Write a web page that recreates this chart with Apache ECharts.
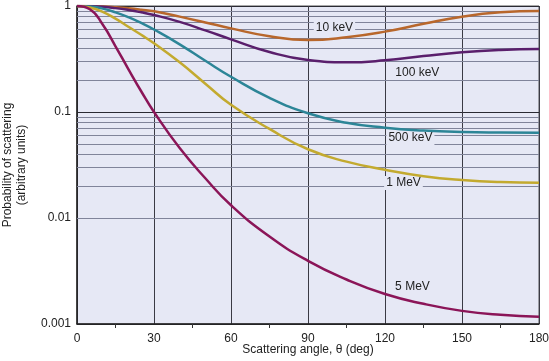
<!DOCTYPE html>
<html><head><meta charset="utf-8">
<script src="https://cdn.jsdelivr.net/npm/echarts@6/dist/echarts.min.js"></script>
<style>html,body{margin:0;padding:0;background:#fff}#c{width:549px;height:361px}</style>
</head><body><div id="c"></div>
<script>
const angles = [0,5,10,15,20,25,30,40,50,60,75,90,105,120,135,150,165,180];
const kev10  = [1,0.998,0.989,0.973,0.951,0.923,0.891,0.794,0.70,0.615,0.518,0.478,0.507,0.573,0.679,0.793,0.871,0.897];
const kev100 = [1,0.995,0.982,0.955,0.918,0.873,0.822,0.708,0.589,0.485,0.368,0.309,0.294,0.307,0.337,0.366,0.385,0.393];
const kev500 = [1,0.989,0.944,0.871,0.785,0.692,0.60,0.435,0.304,0.215,0.136,0.0973,0.0791,0.0711,0.0668,0.0647,0.064,0.0638];
const mev1   = [1,0.966,0.881,0.759,0.638,0.535,0.445,0.294,0.185,0.117,0.0692,0.0445,0.034,0.0285,0.0248,0.0228,0.0218,0.0215];
const mev5   = [1,0.933,0.668,0.417,0.254,0.157,0.1,0.0457,0.0237,0.0132,0.00668,0.00394,0.00263,0.00192,0.00155,0.00133,0.00122,0.00117];
const seriesNames = ['10 keV','100 keV','500 keV','1 MeV','5 MeV'];
const seriesColors = ['#b8672c','#5a1f6c','#2c8597','#c3aa2f','#8b1558'];
const labelPos = [[100.3,0.627],[132.6,0.236],[129.9,0.057],[127.2,0.0214],[130.7,0.00224]];
const xTicks = [0,30,60,90,120,150,180];
const minorLevels = [0.002,0.003,0.004,0.005,0.006,0.007,0.008,0.009,0.02,0.03,0.04,0.05,0.06,0.07,0.08,0.09,0.2,0.3,0.4,0.5,0.6,0.7,0.8,0.9];

const allData = [kev10,kev100,kev500,mev1,mev5];
const chart = echarts.init(document.getElementById('c'));
const FONT = 'Liberation Sans';
const series = allData.map((vals,i)=>({
  type:'line', name:seriesNames[i], data:angles.map((a,j)=>[a,vals[j]]),
  smooth:0.5, symbol:'none', z:5,
  lineStyle:{color:seriesColors[i],width:2.5},
  markPoint:{symbol:'circle',symbolSize:0,silent:true,
    data:[{coord:labelPos[i],value:seriesNames[i]}],
    label:{show:true,formatter:seriesNames[i],color:'#222',fontFamily:FONT,fontSize:12,
      backgroundColor:'#e6e8f5',padding:[1,2],position:'inside'}}
}));
series.push({type:'line',data:[],silent:true,z:1,
  markLine:{symbol:'none',silent:true,label:{show:false},animation:false,
    lineStyle:{color:'#80849a',width:1,type:'solid'},
    data:minorLevels.map(v=>({yAxis:v}))}});
chart.setOption({
  animation:false,
  grid:{left:77,right:10,top:6,bottom:37,containLabel:false,outerBoundsMode:'none',show:true,backgroundColor:'#e6e8f5',borderColor:'#555',borderWidth:1},
  xAxis:{type:'value',min:0,max:180,interval:30,
    axisLine:{show:true,lineStyle:{color:'#222',width:1.5}},
    axisTick:{show:false},
    minorTick:{show:true,splitNumber:2,length:4,lineStyle:{color:'#333'}},
    axisLabel:{color:'#222',fontFamily:FONT,fontSize:12,margin:9,formatter:v=>xTicks.includes(v)?String(v):''},
    splitLine:{show:true,lineStyle:{color:'#3a3a44',width:1}},
    name:'Scattering angle, θ (deg)',nameLocation:'middle',nameGap:20,nameMoveOverlap:false,
    nameTextStyle:{color:'#222',fontFamily:FONT,fontSize:12,verticalAlign:'top'}},
  yAxis:{type:'log',logBase:10,min:0.001,max:1,
    axisLine:{show:true,lineStyle:{color:'#222',width:1.5}},
    axisTick:{show:false},
    axisLabel:{color:'#222',fontFamily:FONT,fontSize:12,margin:6,formatter:v=>String(+(+v).toPrecision(1))},
    splitLine:{show:true,lineStyle:{color:'#2a2a33',width:1}},
    name:'Probability of scattering\n(arbitrary units)',nameLocation:'middle',nameGap:48,nameRotate:90,nameMoveOverlap:false,
    nameTextStyle:{color:'#222',fontFamily:FONT,fontSize:12,lineHeight:14}},
  series:series
});
</script></body></html>
